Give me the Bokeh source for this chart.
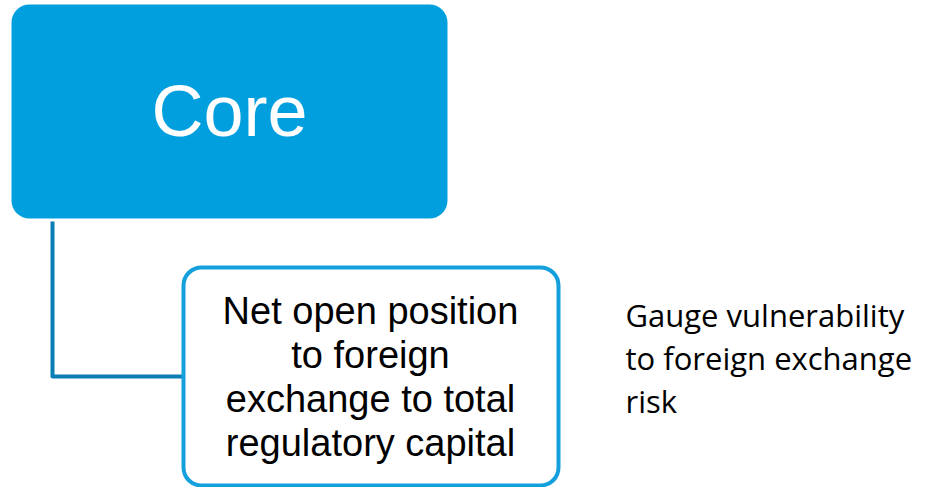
from bokeh.plotting import figure
from bokeh.models import Range1d
from bokeh.core.properties import value
from bokeh.embed import file_html
from bokeh.resources import INLINE

# ---- content ----
top_label = ["Core"]
box_lines = ["Net open position", "to foreign", "exchange to total", "regulatory capital"]
note_lines = ["Gauge vulnerability", "to foreign exchange", "risk"]

# ---- layout (reference pixel coordinates) ----
W, H = 933, 487
p = figure(width=W, height=H, output_backend="svg", toolbar_location=None,
           x_range=Range1d(0, W), y_range=Range1d(H, 0),
           min_border=0, border_fill_color="white", background_fill_color="white")
p.axis.visible = False
p.grid.visible = False
p.outline_line_color = None

# top box
p.quad(left=[11], right=[447], top=[4], bottom=[218], fill_color="#029FDE",
       line_color=None, border_radius=18)
p.text(x=[229], y=[110], text=top_label, text_color="white",
       text_font=value("Liberation Sans"), text_font_size="72px",
       text_align="center", text_baseline="alphabetic")

# connector
p.line(x=[52, 52, 184], y=[221, 376, 376], line_color="#0B7DB5", line_width=4,
       line_join="round")

# bottom box
p.quad(left=[183], right=[558], top=[267], bottom=[485], fill_color="white",
       line_color="#149FDD", line_width=4, border_radius=18)
bx = [370] * len(box_lines)
by = [310 + 44 * i for i in range(len(box_lines))]
p.text(x=bx, y=by, text=box_lines, text_color="black",
       text_font=value("Liberation Sans"), text_font_size="38px",
       text_align="center", text_baseline="alphabetic")

# note
nx = [625] * len(note_lines)
ny = [314 + 43 * i for i in range(len(note_lines))]
p.text(x=nx, y=ny, text=note_lines, text_color="black",
       text_font=value("Open Sans"), text_font_size="31px",
       text_align="left", text_baseline="alphabetic")

open("out.html", "w").write(file_html(p, INLINE))
